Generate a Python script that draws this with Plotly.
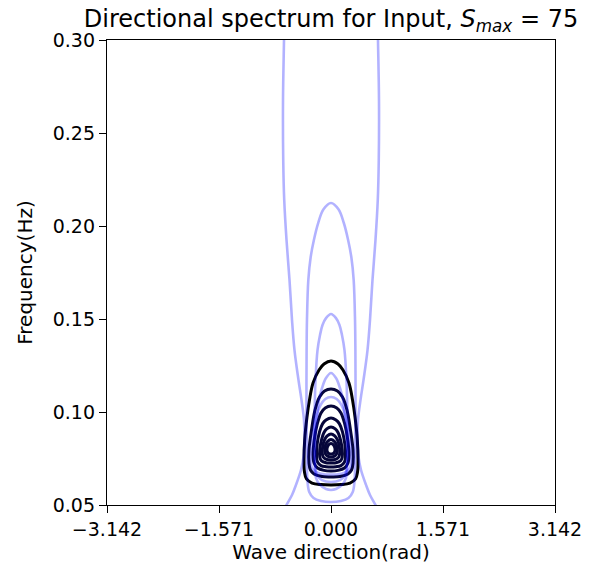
import plotly.graph_objects as go

# ---------------- data ----------------
# Each closed contour: frequency (Hz) from top to bottom, and half-width (rad)
# of the contour at that frequency (contours are symmetric about 0 rad).
black_freq = [
    [0.1274, 0.1258, 0.1226, 0.1156, 0.1065, 0.0973, 0.0850, 0.0742, 0.0677, 0.0640, 0.0618, 0.0610, 0.0608],
    [0.1124, 0.1113, 0.1081, 0.1011, 0.0903, 0.0796, 0.0726, 0.0688, 0.0667, 0.0653, 0.0651],
    [0.1032, 0.1022, 0.0995, 0.0941, 0.0860, 0.0769, 0.0726, 0.0699, 0.0686, 0.0683],
    [0.0968, 0.0957, 0.0936, 0.0893, 0.0828, 0.0763, 0.0731, 0.0712, 0.0706, 0.0704],
    [0.0919, 0.0909, 0.0887, 0.0850, 0.0796, 0.0758, 0.0737, 0.0727, 0.0726],
    [0.0882, 0.0871, 0.0850, 0.0817, 0.0780, 0.0758, 0.0745, 0.0742],
    [0.0852, 0.0841, 0.0823, 0.0796, 0.0774, 0.0761, 0.0758],
    [0.0831, 0.0823, 0.0804, 0.0788, 0.0777, 0.0774],
]
black_halfwidth = [
    [0.0, 0.098, 0.168, 0.252, 0.302, 0.337, 0.369, 0.379, 0.372, 0.344, 0.266, 0.140, 0.0],
    [0.0, 0.091, 0.161, 0.224, 0.273, 0.309, 0.309, 0.288, 0.238, 0.126, 0.0],
    [0.0, 0.081, 0.140, 0.189, 0.231, 0.252, 0.238, 0.189, 0.098, 0.0],
    [0.0, 0.070, 0.119, 0.161, 0.194, 0.203, 0.189, 0.140, 0.070, 0.0],
    [0.0, 0.060, 0.102, 0.133, 0.158, 0.158, 0.133, 0.070, 0.0],
    [0.0, 0.053, 0.091, 0.115, 0.123, 0.109, 0.063, 0.0],
    [0.0, 0.050, 0.077, 0.088, 0.077, 0.042, 0.0],
    [0.0, 0.036, 0.056, 0.053, 0.031, 0.0],
]

blue_freq = [
    [0.2124, 0.2090, 0.2016, 0.1925, 0.1833, 0.1710, 0.1495, 0.1333, 0.1065, 0.0796, 0.0634, 0.0570, 0.0538, 0.0522, 0.0516],
    [0.1527, 0.1505, 0.1468, 0.1414, 0.1333, 0.1172, 0.0957, 0.0742, 0.0645, 0.0608, 0.0586, 0.0581],
    [0.1210, 0.1183, 0.1129, 0.1065, 0.0903, 0.0742, 0.0661, 0.0634, 0.0624],
    [0.1081, 0.1070, 0.1038, 0.0968, 0.0860, 0.0753, 0.0699, 0.0675, 0.0665, 0.0664],
]
blue_halfwidth = [
    [0.0, 0.105, 0.180, 0.240, 0.285, 0.318, 0.337, 0.342, 0.344, 0.338, 0.331, 0.305, 0.245, 0.140, 0.0],
    [0.0, 0.070, 0.119, 0.154, 0.189, 0.217, 0.231, 0.231, 0.210, 0.154, 0.070, 0.0],
    [0.0, 0.070, 0.126, 0.168, 0.210, 0.224, 0.196, 0.126, 0.0],
    [0.0, 0.080, 0.145, 0.210, 0.259, 0.281, 0.266, 0.196, 0.098, 0.0],
]

# Outermost blue contour: open at top and bottom of the axes
outer_freq = [0.3161, 0.3000, 0.2677, 0.2355, 0.2140, 0.1925, 0.1710, 0.1495, 0.1333, 0.1172,
              0.1065, 0.0957, 0.0849, 0.0758, 0.0688, 0.0608, 0.0554, 0.0500, 0.0446]
outer_halfwidth = [0.652, 0.659, 0.673, 0.670, 0.656, 0.624, 0.582, 0.547, 0.512, 0.456,
                   0.414, 0.379, 0.372, 0.386, 0.421, 0.491, 0.547, 0.625, 0.695]

x_tickvals = [-3.14159265, -1.57079633, 0.0, 1.57079633, 3.14159265]
x_ticktext = ["\u22123.142", "\u22121.571", "0.000", "1.571", "3.142"]
y_tickvals = [0.05, 0.10, 0.15, 0.20, 0.25, 0.30]
x_range = [-3.14159265, 3.14159265]
y_range = [0.05, 0.30]

# ---------------- build figure ----------------
BLACK = "#000000"
NAVY = "#06063a"
BLUE = "rgba(0,0,255,0.3)"


def ring(freq, hw):
    xs = list(hw) + [-h for h in reversed(hw[:-1])]
    ys = list(freq) + list(reversed(freq[:-1]))
    xs, ys = xs[:-1], ys[:-1]
    k = max(range(len(hw)), key=lambda i: hw[i])
    xs = xs[k:] + xs[:k] + [xs[k]]
    ys = ys[k:] + ys[:k] + [ys[k]]
    return xs, ys


fig = go.Figure()

for i, (f, h) in enumerate(zip(black_freq, black_halfwidth)):
    xs, ys = ring(f, h)
    fig.add_trace(go.Scatter(x=xs, y=ys, mode="lines",
                             line=dict(color=BLACK if i == 0 else NAVY, width=3,
                                       shape="spline", smoothing=1.0),
                             hoverinfo="skip"))

for f, h in zip(blue_freq, blue_halfwidth):
    xs, ys = ring(f, h)
    fig.add_trace(go.Scatter(x=xs, y=ys, mode="lines",
                             line=dict(color=BLUE, width=2.6, shape="spline", smoothing=1.0),
                             hoverinfo="skip"))

for sign in (-1, 1):
    fig.add_trace(go.Scatter(x=[sign * h for h in outer_halfwidth], y=outer_freq, mode="lines",
                             line=dict(color=BLUE, width=2.6, shape="spline", smoothing=1.0),
                             hoverinfo="skip"))

FONT = "DejaVu Sans"
axis_common = dict(showgrid=False, zeroline=False, showline=True, mirror=True,
                   linecolor="black", linewidth=1.3, ticks="outside", ticklen=7,
                   tickwidth=1.3, tickcolor="black",
                   tickfont=dict(family=FONT, size=19, color="black"))

fig.update_layout(
    width=598, height=572,
    margin=dict(l=107, r=43, t=40, b=67),
    paper_bgcolor="white", plot_bgcolor="white",
    showlegend=False,
    title=dict(text="Directional spectrum for Input, <i>S</i><sub><i>max</i></sub> = 75",
               x=0.5, xref="paper", xanchor="center",
               y=1 - 19 / 572, yref="container", yanchor="middle",
               font=dict(family=FONT, size=24, color="black")),
    xaxis=dict(range=x_range, tickvals=x_tickvals, ticktext=x_ticktext,
               title=dict(text="Wave direction(rad)", font=dict(family=FONT, size=20, color="black"),
                          standoff=6),
               **axis_common),
    yaxis=dict(range=y_range, tickvals=y_tickvals, tickformat=".2f",
               title=dict(text="Frequency(Hz)", font=dict(family=FONT, size=20, color="black"),
                          standoff=14),
               **axis_common),
)

fig.write_html("out.html")
